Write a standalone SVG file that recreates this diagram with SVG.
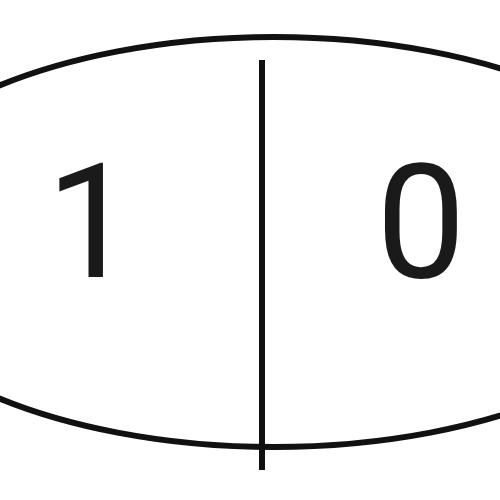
<svg xmlns="http://www.w3.org/2000/svg" width="500" height="500" viewBox="0 0 500 500">
<style>
.shape{fill:none;stroke:#111;stroke-width:6}
.lbl{font-family:Roboto,"Liberation Sans",sans-serif;font-size:160px;fill:#1a1a1a}
</style>
<rect width="500" height="500" fill="#fff"/>
<g id="node">
<ellipse class="shape" cx="274" cy="242" rx="425" ry="205"/>
</g>
<g id="connectors">
<line class="shape" x1="262" y1="60" x2="262" y2="470"/>
</g>
<g id="label-1"><text class="lbl" x="46" y="277">1</text></g>
<g id="label-0"><text class="lbl" x="376" y="277">0</text></g>
</svg>
